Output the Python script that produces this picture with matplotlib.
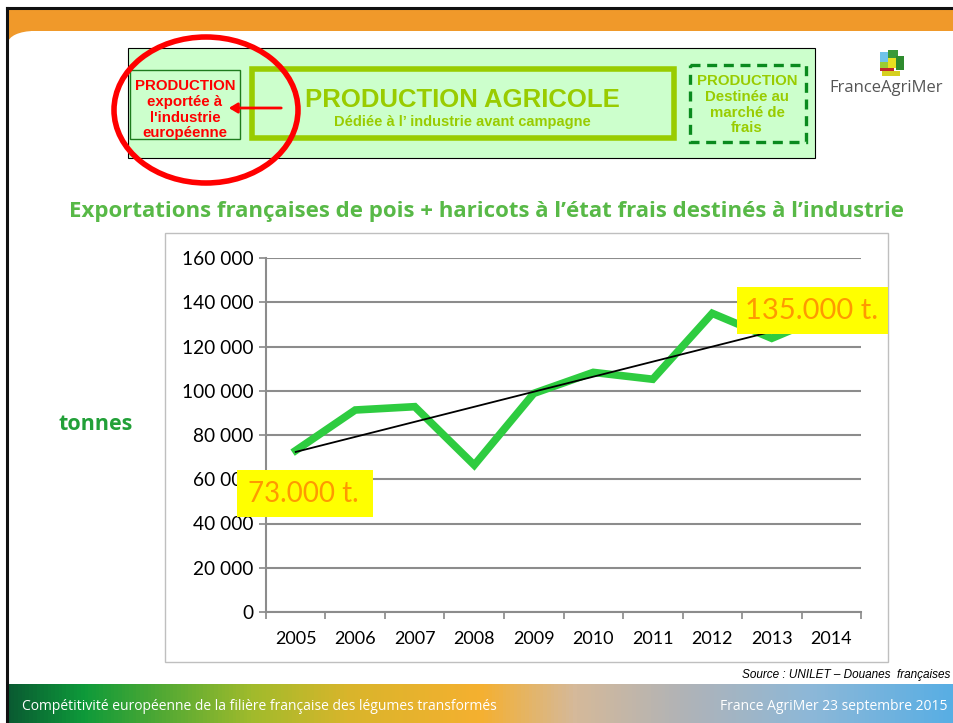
import numpy as np
import matplotlib.pyplot as plt
from matplotlib.patches import Rectangle, Ellipse, FancyArrowPatch
from matplotlib.colors import LinearSegmentedColormap

# exports of fresh peas + beans for processing (tonnes)
annees = ["2005", "2006", "2007", "2008", "2009", "2010", "2011", "2012", "2013", "2014"]
tonnes = [73000, 91300, 92800, 66400, 98800, 108300, 105200, 135000, 123700, 135000]
yticks = [0, 20000, 40000, 60000, 80000, 100000, 120000, 140000, 160000]
ytick_labels = ["0", "20 000", "40 000", "60 000", "80 000", "100 000", "120 000", "140 000", "160 000"]

W, H = 954, 723
fig = plt.figure(figsize=(W / 100, H / 100), dpi=100)

# background layer in pixel coordinates (y downwards)
bg = fig.add_axes([0, 0, 1, 1], zorder=0)
bg.set_xlim(0, W)
bg.set_ylim(H, 0)
bg.axis("off")

# slide frame and orange header with rounded inner corner
bg.add_patch(Rectangle((0, 0), W, H, facecolor="white", edgecolor="none"))
bg.add_patch(Rectangle((7, 8), W, 23, facecolor="#F0992A", edgecolor="none"))
bg.add_patch(Rectangle((7, 30), 24, 10, facecolor="#F0992A", edgecolor="none"))
bg.add_patch(Ellipse((34, 43), 52, 24, facecolor="white", edgecolor="none"))
bg.add_patch(Rectangle((31, 31), 40, 20, facecolor="white", edgecolor="none"))
bg.plot([7, 7], [8, H], color="#111111", lw=2.2)
bg.plot([7, W], [8, 8], color="#111111", lw=2.2)

# footer gradient
grad = LinearSegmentedColormap.from_list("footer", [
    (0.00, "#0A5A32"), (0.08, "#0E9A3A"), (0.26, "#A2BB2C"), (0.36, "#D9B52B"),
    (0.50, "#F5B030"), (0.60, "#D5B99A"), (0.72, "#AFB3B8"), (0.85, "#8DB8D8"),
    (1.00, "#58AEE4")])
bg.imshow(np.linspace(0, 1, 256)[None, :], cmap=grad, aspect="auto",
          extent=(7, W, H, 684), zorder=1)
bg.text(22, 706, "Compétitivité européenne de la filière française des légumes transformés",
        color="white", fontsize=10, family="Open Sans", va="center", zorder=2)
bg.text(720, 706, "France AgriMer 23 septembre 2015", color="white", fontsize=10,
        family="Open Sans", va="center", zorder=2)

# banner with the production flows
bg.add_patch(Rectangle((128, 48), 687, 110, facecolor="#CCFFCC", edgecolor="black", lw=0.8))
bg.add_patch(Rectangle((130, 70), 110, 69, facecolor="none", edgecolor="#1E7B1E", lw=1))
bg.add_patch(Rectangle((252, 69), 422, 69, facecolor="none", edgecolor="#99CC00", lw=4))
bg.add_patch(Rectangle((690, 65), 116, 77, facecolor="none", edgecolor="#0A8A1E", lw=2.4,
                       linestyle=(0, (3, 2))))
for txt, y in zip(["PRODUCTION", "exportée à", "l'industrie", "européenne"], [86, 102, 118, 133]):
    bg.text(185, y, txt, color="#FF0000", fontsize=10.8, fontweight="bold",
            family="Liberation Sans", ha="center", va="center")
bg.text(462, 100, "PRODUCTION AGRICOLE", color="#99CC00", fontsize=18.5, fontweight="bold",
        family="Liberation Sans", ha="center", va="center")
bg.text(462, 122, "Dédiée à l\u2019 industrie avant campagne", color="#99CC00", fontsize=10.5,
        fontweight="bold", family="Liberation Sans", ha="center", va="center")
for txt, y in zip(["PRODUCTION", "Destinée au", "marché de", "frais"], [81, 97, 113, 128]):
    bg.text(747, y, txt, color="#99CC00", fontsize=10.8, fontweight="bold",
            family="Liberation Sans", ha="center", va="center")
bg.add_patch(FancyArrowPatch((284, 108), (226, 108), arrowstyle="-|>,head_length=5,head_width=3",
                             color="#FF0000", lw=2))
bg.add_patch(Ellipse((206, 110), 184, 146, facecolor="none", edgecolor="#FF0000", lw=4))

# logo
for x, y, w, h, c in [(880, 52, 8, 10, "#6FC3E8"), (888, 50, 10, 8, "#3A9A3A"),
                      (888, 58, 8, 10, "#E8E020"), (896, 56, 8, 14, "#2E8B2E"),
                      (880, 62, 8, 8, "#9ACD32"), (880, 68, 14, 3, "#C0282C"),
                      (882, 71, 18, 5, "#D6D020")]:
    bg.add_patch(Rectangle((x, y), w, h, facecolor=c, edgecolor="none"))
bg.text(886, 88, "FranceAgriMer", color="#555555", fontsize=12, family="Open Sans",
        ha="center", va="center")

# chart title and frame
bg.text(487, 212, "Exportations françaises de pois + haricots à l\u2019état frais destinés à l\u2019industrie",
        color="#58B947", fontsize=16, fontweight="bold", family="Open Sans",
        ha="center", va="center")
bg.add_patch(Rectangle((165, 233), 723, 429, facecolor="white", edgecolor="#BFBFBF", lw=1))
bg.text(96, 425, "tonnes", color="#22A038", fontsize=15.5, fontweight="bold",
        family="Open Sans", ha="center", va="center")
bg.text(950, 675, "Source : UNILET \u2013 Douanes  françaises", fontsize=8.5, style="italic",
        family="Liberation Sans", ha="right", va="center")

# line chart
ax = fig.add_axes([266 / W, 1 - 612 / H, (861 - 266) / W, (612 - 258) / H], zorder=1)
ax.patch.set_alpha(0)
x = np.arange(len(annees))
ax.plot(x, tonnes, color="#2ECC40", lw=5.5, solid_joinstyle="miter", zorder=3)
coef = np.polyfit(x, tonnes, 1)
ax.plot(x, np.polyval(coef, x), color="black", lw=1.3, zorder=4)
ax.set_xlim(-0.5, len(annees) - 0.5)
ax.set_ylim(0, 160000)
ax.set_yticks(yticks)
ax.set_yticklabels(ytick_labels, family="Lato", fontsize=13.8)
ax.set_xticks(x)
ax.set_xticklabels(annees, family="Lato", fontsize=13)
ax.set_xticks(np.arange(-0.5, len(annees)), minor=True)
ax.tick_params(axis="x", which="major", length=0, pad=14)
ax.tick_params(axis="x", which="minor", length=5, color="#888888", width=1.2)
ax.tick_params(axis="y", length=5, color="#888888", width=1.2, pad=4)
ax.grid(axis="y", color="#8C8C8C", lw=1.5)
ax.set_axisbelow(True)
for s in ["top", "right"]:
    ax.spines[s].set_visible(False)
for s in ["left", "bottom"]:
    ax.spines[s].set_color("#8C8C8C")
    ax.spines[s].set_linewidth(1.5)

# value call-outs on top
top = fig.add_axes([0, 0, 1, 1], zorder=2)
top.set_xlim(0, W)
top.set_ylim(H, 0)
top.axis("off")
top.add_patch(Rectangle((737, 287), 151, 47, facecolor="#FFFF00", edgecolor="none"))
top.text(812, 311, "135.000 t.", color="#FF9900", fontsize=21, family="Lato",
         ha="center", va="center")
top.add_patch(Rectangle((237, 470), 136, 47, facecolor="#FFFF00", edgecolor="none"))
top.text(303, 494, "73.000 t.", color="#FF9900", fontsize=20, family="Lato",
         ha="center", va="center")

fig.savefig("out.png", dpi=100)
